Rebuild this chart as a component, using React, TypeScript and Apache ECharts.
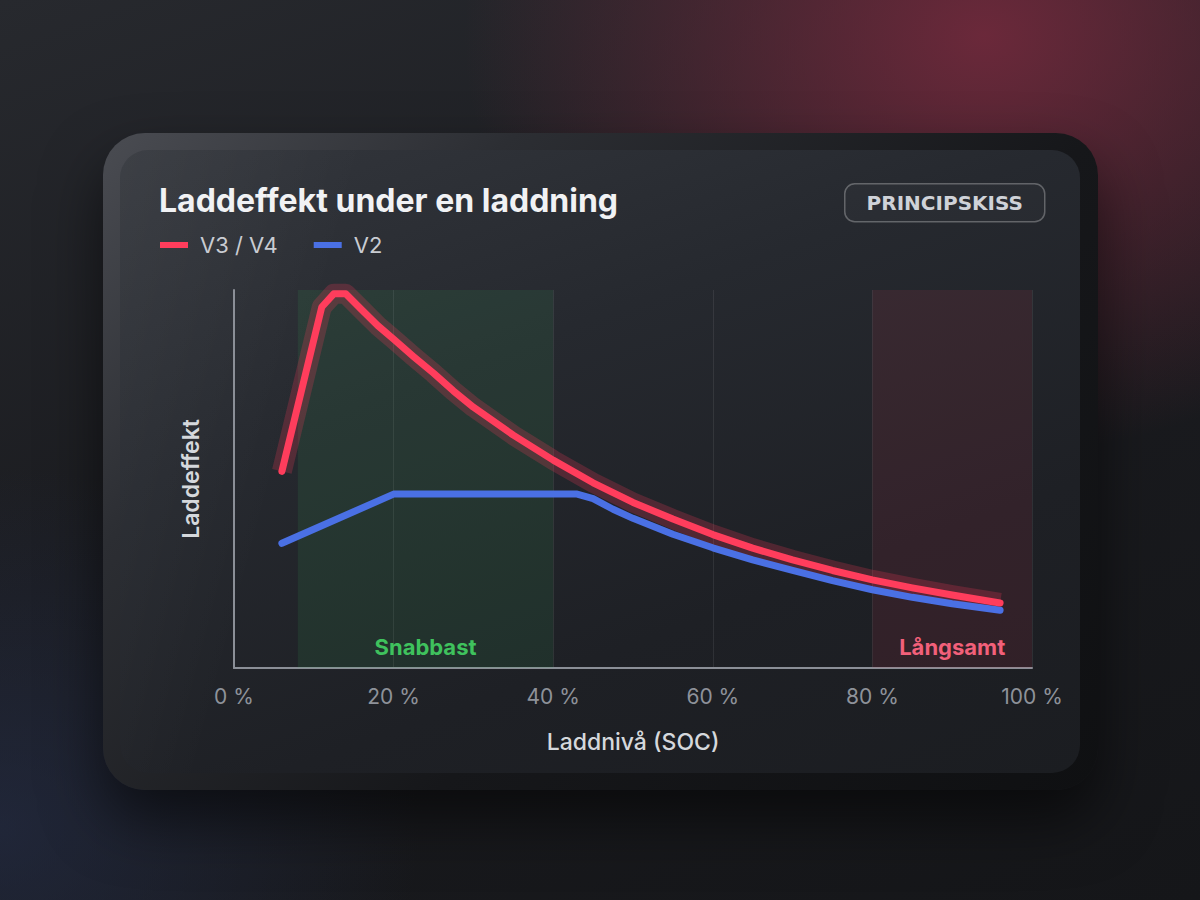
import React, { useEffect, useRef } from "react";
import * as echarts from "echarts";

const titleText = "Laddeffekt under en laddning";
const badgeText = "PRINCIPSKISS";
const seriesNames = ["V3 / V4", "V2"];
const xTicks = [0, 20, 40, 60, 80, 100];

// SOC (%) and relative charging power (0–100)
const socV3 = [6, 11, 12.5, 14, 16, 18, 20, 22.5, 25, 27.5, 30, 35, 40, 45, 50, 55, 60, 65, 70, 75, 80, 85, 90, 96];
const powerV3 = [52, 95.5, 99, 99, 94.8, 90.6, 87, 82.4, 78, 73.3, 69, 61.6, 55, 49, 43.8, 39.4, 35.3, 31.7, 28.6, 25.8, 23.3, 21.2, 19.3, 17.2];

const socV2 = [6, 20, 43, 45, 47.5, 50, 55, 60, 65, 70, 75, 80, 85, 90, 96];
const powerV2 = [33, 46, 46, 44.8, 42, 39.6, 35.4, 31.8, 28.6, 25.8, 23.1, 20.7, 18.7, 17, 15.3];

const zones = [
  { name: "Snabbast", from: 8, to: 40, fill: "rgba(60,200,100,0.10)", text: "#3fc25d" },
  { name: "Långsamt", from: 80, to: 100, fill: "rgba(235,60,85,0.10)", text: "#f2607a" },
];

const FONT = "Inter, 'Noto Sans', sans-serif";

export default function App() {
  const ref = useRef<HTMLDivElement>(null);

  useEffect(() => {
    if (!ref.current) return;
    const chart = echarts.init(ref.current, undefined, { renderer: "svg" });
    const v3 = socV3.map((x, i) => [x, powerV3[i]]);
    const v2 = socV2.map((x, i) => [x, powerV2[i]]);

    chart.setOption({
      animation: false,
      backgroundColor: "transparent",
      textStyle: { fontFamily: FONT },
      title: {
        text: titleText,
        left: 159,
        top: 184,
        padding: 0,
        textStyle: { fontSize: 32, fontWeight: 700, color: "#f1f2f4", fontFamily: FONT },
      },
      legend: {
        data: seriesNames,
        left: 160,
        top: 234,
        padding: 0,
        icon: "rect",
        itemWidth: 28,
        itemHeight: 6,
        itemGap: 36,
        selectedMode: false,
        textStyle: { fontSize: 22, color: "#c9ccd2", fontFamily: FONT, padding: [0, 0, 0, 7] },
      },
      graphic: [
        {
          type: "group",
          left: 844,
          top: 183,
          children: [
            {
              type: "rect",
              shape: { x: 0, y: 0, width: 200, height: 38, r: 10 },
              style: { fill: "rgba(255,255,255,0.02)", stroke: "rgba(255,255,255,0.28)", lineWidth: 1.5 },
            },
            {
              type: "text",
              x: 100,
              y: 19,
              style: {
                text: badgeText,
                fill: "#cfd2d8",
                font: `700 20px 'DejaVu Sans', Inter, sans-serif`,
                align: "center",
                verticalAlign: "middle",
              },
            },
          ],
        },
      ],
      grid: { left: 234, top: 290, width: 798, height: 378, containLabel: false },
      xAxis: {
        type: "value",
        min: 0,
        max: 100,
        interval: 20,
        name: "Laddnivå (SOC)",
        nameLocation: "middle",
        nameGap: 62,
        nameTextStyle: { fontSize: 23, fontWeight: 500, color: "#d5d8dc", fontFamily: FONT },
        axisLine: { show: true, lineStyle: { color: "#8b8f97", width: 2 } },
        axisTick: { show: false },
        axisLabel: {
          margin: 18,
          fontSize: 21,
          color: "#8e929a",
          fontFamily: FONT,
          formatter: (v: number) => (xTicks.includes(v) ? `${v} %` : ""),
        },
        splitLine: { show: true, lineStyle: { color: "rgba(255,255,255,0.08)", width: 1 } },
      },
      yAxis: {
        type: "value",
        min: 0,
        max: 100,
        name: "Laddeffekt",
        nameLocation: "middle",
        nameGap: 32,
        nameRotate: 90,
        nameTextStyle: { fontSize: 23, fontWeight: 600, color: "#d5d8dc", fontFamily: FONT },
        axisLine: { show: true, lineStyle: { color: "#8b8f97", width: 2 } },
        axisTick: { show: false },
        axisLabel: { show: false },
        splitLine: { show: false },
      },
      series: [
        {
          type: "line",
          name: "zones",
          data: [],
          z: 1,
          silent: true,
          markArea: {
            silent: true,
            data: zones.map((zn) => [
              {
                xAxis: zn.from,
                name: zn.name,
                itemStyle: { color: zn.fill },
                label: {
                  show: true,
                  position: "insideBottom",
                  distance: 10,
                  color: zn.text,
                  fontSize: 22,
                  fontWeight: 700,
                  fontFamily: FONT,
                },
              },
              { xAxis: zn.to },
            ]),
          },
        },
        {
          type: "line",
          name: "V3 glow",
          data: v3,
          z: 2,
          clip: false,
          silent: true,
          symbol: "none",
          emphasis: { disabled: true },
          lineStyle: { color: "rgba(255,60,90,0.22)", width: 20, cap: "butt", join: "round" },
        },
        {
          type: "line",
          name: seriesNames[1],
          data: v2,
          z: 3,
          clip: false,
          symbol: "none",
          color: "#4a70e4",
          emphasis: { disabled: true },
          lineStyle: { color: "#4a70e4", width: 7, cap: "round", join: "round" },
        },
        {
          type: "line",
          name: seriesNames[0],
          data: v3,
          z: 4,
          clip: false,
          symbol: "none",
          color: "#ff3d5c",
          emphasis: { disabled: true },
          lineStyle: { color: "#ff3d5c", width: 7, cap: "round", join: "round" },
        },
      ],
    });

    return () => chart.dispose();
  }, []);

  return (
    <div
      style={{
        position: "absolute",
        left: 0,
        top: 0,
        width: 1200,
        height: 900,
        overflow: "hidden",
        background:
          "radial-gradient(ellipse 520px 420px at 82% 4%, rgba(120,42,62,0.85), rgba(120,42,62,0) 100%)," +
          "radial-gradient(ellipse 420px 360px at 0% 92%, rgba(38,48,78,0.55), rgba(38,48,78,0) 100%)," +
          "linear-gradient(160deg, #27292e 0%, #1b1c20 45%, #151619 100%)",
      }}
    >
      <div
        style={{
          position: "absolute",
          left: 103,
          top: 133,
          width: 995,
          height: 657,
          borderRadius: 42,
          background: "linear-gradient(135deg, #4a4c52 0%, #2c2e33 25%, #16171a 60%, #0f1012 100%)",
          boxShadow: "0 30px 60px rgba(0,0,0,0.55)",
        }}
      />
      <div
        style={{
          position: "absolute",
          left: 120,
          top: 150,
          width: 960,
          height: 623,
          borderRadius: 28,
          background:
            "linear-gradient(105deg, rgba(255,255,255,0.05) 0%, rgba(255,255,255,0.025) 12%, rgba(255,255,255,0) 22%)," +
            "linear-gradient(160deg, #33363c 0%, #26292f 35%, #1e2025 70%, #1b1d21 100%)",
        }}
      />
      <div ref={ref} style={{ position: "absolute", left: 0, top: 0, width: 1200, height: 900 }} />
    </div>
  );
}
